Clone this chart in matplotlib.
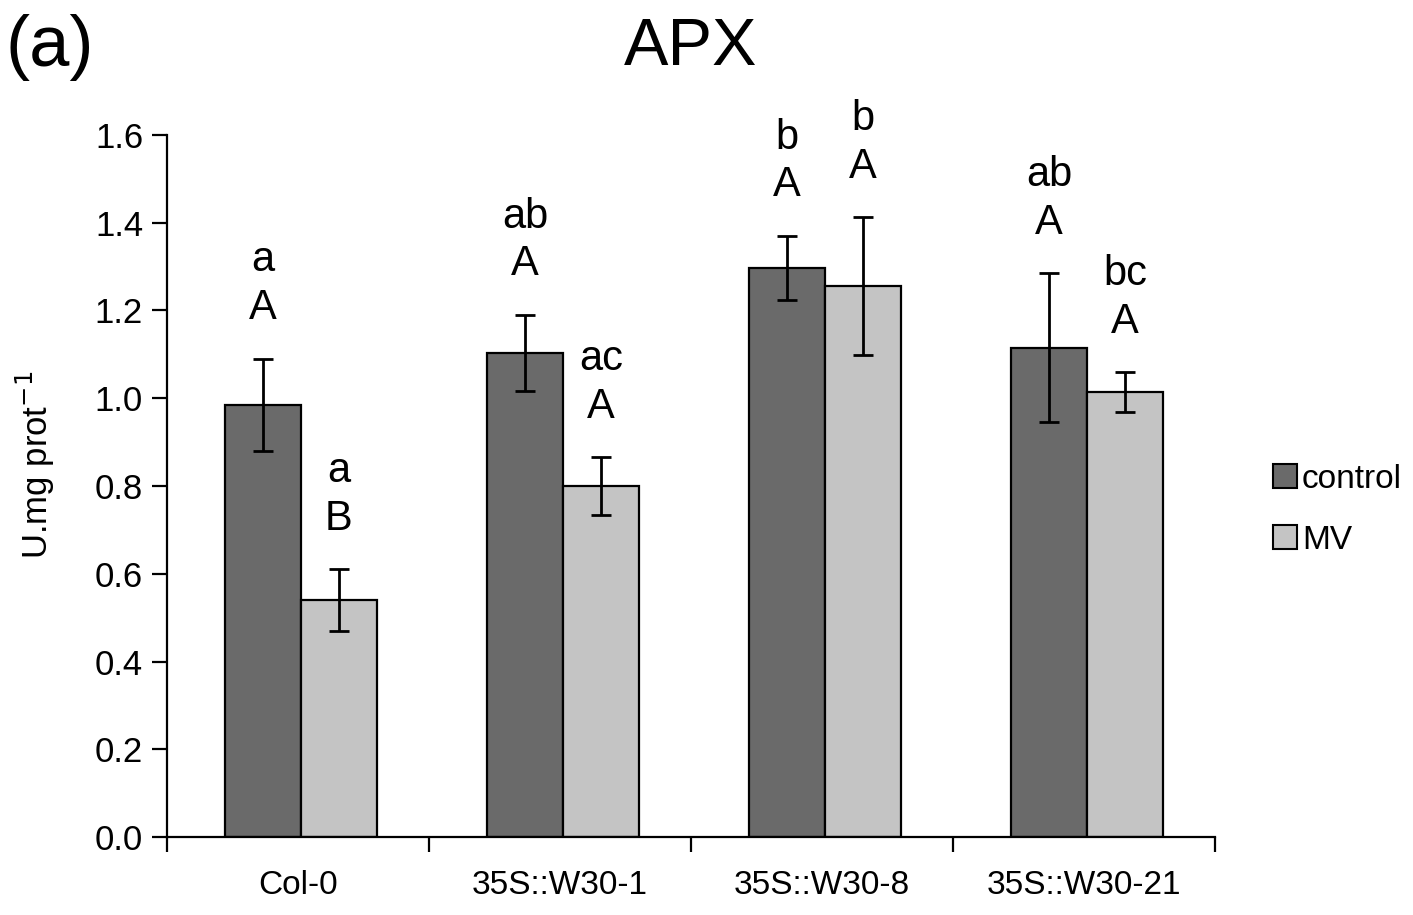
import matplotlib
matplotlib.use("Agg")
import matplotlib.pyplot as plt
import numpy as np
from matplotlib.patches import Patch

plt.rcParams['font.family'] = ['Liberation Sans', 'DejaVu Sans']

categories = ["Col-0", "35S::W30-1", "35S::W30-8", "35S::W30-21"]
control_vals = [0.985, 1.103, 1.297, 1.115]
control_err = [0.105, 0.087, 0.073, 0.170]
mv_vals = [0.540, 0.800, 1.256, 1.014]
mv_err = [0.070, 0.065, 0.157, 0.045]
control_low = ["A", "A", "A", "A"]
control_up = ["a", "ab", "b", "ab"]
mv_low = ["B", "A", "A", "A"]
mv_up = ["a", "ac", "b", "bc"]
yticks = [0.0, 0.2, 0.4, 0.6, 0.8, 1.0, 1.2, 1.4, 1.6]

fig = plt.figure(figsize=(14.13, 9.15), dpi=100)
ax = fig.add_axes([0.118, 0.0852, 0.742, 0.7673])

x = np.arange(len(categories))
w = 0.29
shift = 0.012
xc = x - w / 2 + shift
xm = x + w / 2 + shift

ax.bar(xc, control_vals, width=w, color="#6a6a6a", edgecolor="black", linewidth=1.6, zorder=2)
ax.bar(xm, mv_vals, width=w, color="#c4c4c4", edgecolor="black", linewidth=1.6, zorder=2)
ax.errorbar(xc, control_vals, yerr=control_err, fmt="none", ecolor="black", elinewidth=2, capsize=7, capthick=2, zorder=3)
ax.errorbar(xm, mv_vals, yerr=mv_err, fmt="none", ecolor="black", elinewidth=2, capsize=7, capthick=2, zorder=3)

gap = 0.09
line = 0.109
for xs, vals, errs, lows, ups in [(xc, control_vals, control_err, control_low, control_up),
                                  (xm, mv_vals, mv_err, mv_low, mv_up)]:
    for xi, v, e, lo, up in zip(xs, vals, errs, lows, ups):
        ax.text(xi, v + e + gap, lo, ha="center", va="baseline", fontsize=30)
        ax.text(xi, v + e + gap + line, up, ha="center", va="baseline", fontsize=30)

ax.set_xlim(-0.5, 3.5)
ax.set_ylim(0, 1.6)
ax.set_yticks(yticks)
ax.set_yticklabels([f"{t:.1f}" for t in yticks], fontsize=25)
ax.set_xticks(np.arange(-0.5, 4.0, 1.0))
ax.set_xticklabels([])
ax.set_xticks(x, minor=True)
ax.set_xticklabels(categories, minor=True, fontsize=24)
ax.tick_params(axis="x", which="minor", length=0, pad=24)
ax.tick_params(axis="x", which="major", direction="out", length=11, width=1.6)
ax.tick_params(axis="y", direction="out", length=11, width=1.6, pad=6)
for s in ["top", "right"]:
    ax.spines[s].set_visible(False)
for s in ["left", "bottom"]:
    ax.spines[s].set_linewidth(1.6)

ax.set_ylabel(r"U.mg prot$^{-1}$", fontsize=25)
ax.yaxis.set_label_coords(-0.105, 0.53)

fig.text(0.489, 0.947, "APX", ha="center", va="center", fontsize=48)
fig.text(0.004, 0.948, "(a)", ha="left", va="center", fontsize=52)

handles = [Patch(facecolor="#6a6a6a", edgecolor="black", linewidth=1.5, label="control"),
           Patch(facecolor="#c4c4c4", edgecolor="black", linewidth=1.5, label="MV")]
fig.legend(handles=handles, loc="center left", bbox_to_anchor=(0.88, 0.443), frameon=False,
           fontsize=24, handlelength=0.7, handleheight=0.7, handletextpad=0.15, labelspacing=0.9)

fig.savefig("out.png", dpi=100, facecolor="white")
